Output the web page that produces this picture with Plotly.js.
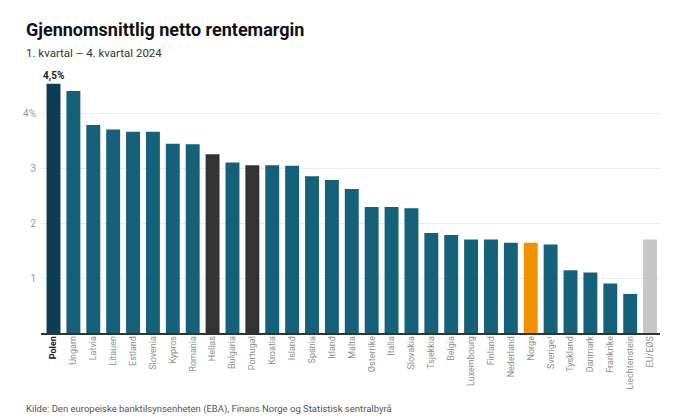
<!DOCTYPE html>
<html>
<head>
<meta charset="utf-8">
<script src="https://cdn.plot.ly/plotly-3.0.1.min.js"></script>
<style>
html,body{margin:0;padding:0;background:#fff;}
#chart{width:680px;height:419px;}
</style>
</head>
<body>
<div id="chart"></div>
<script>
const countries = ["Polen","Ungarn","Latvia","Litauen","Estland","Slovenia","Kypros","Romania","Hellas","Bulgaria","Portugal","Kroatia","Island","Spania","Irland","Malta","Østerrike","Italia","Slovakia","Tsjekkia","Belgia","Luxembourg","Finland","Nederland","Norge","Sverige¹","Tyskland","Danmark","Frankrike","Liechtenstein","EU/EØS"];
const margins = [4.53,4.40,3.78,3.70,3.66,3.66,3.44,3.43,3.25,3.10,3.05,3.05,3.04,2.85,2.78,2.62,2.29,2.29,2.27,1.82,1.78,1.70,1.70,1.64,1.64,1.61,1.14,1.10,0.90,0.71,1.70];
const highlight = {"Polen":"#0b3d55","Hellas":"#333333","Portugal":"#333333","Norge":"#f39200","EU/EØS":"#c6c6c6"};
const baseColor = "#16617a";
const yTickVals = [1,2,3,4];
const yTickText = ["1","2","3","4%"];
const topLabel = "4,5%";

const colors = countries.map(c => highlight[c] || baseColor);
const tickText = countries.map(c => c === "Polen" ? '<b><span style="color:#222">Polen</span></b>' : c);

const trace = {
  type: "bar",
  x: countries,
  y: margins,
  marker: {color: colors, line: {width: 0}},
  hoverinfo: "x+y"
};

const layout = {
  width: 680, height: 419,
  paper_bgcolor: "#fff", plot_bgcolor: "#fff",
  margin: {l: 41, r: 20, t: 80, b: 86},
  bargap: 0.3,
  showlegend: false,
  font: {family: "Roboto, Arial, sans-serif", color: "#888"},
  xaxis: {
    type: "category",
    tickmode: "array", tickvals: countries, ticktext: tickText,
    tickangle: -90,
    tickfont: {size: 9, color: "#8f8f8f"},
    ticklabelstandoff: -2,
    showgrid: false, zeroline: false,
    showline: true, linecolor: "#333", linewidth: 1.5,
    ticks: "", fixedrange: true
  },
  yaxis: {
    range: [0, 4.6],
    tickmode: "array", tickvals: yTickVals, ticktext: yTickText,
    tickfont: {size: 10, color: "#999"},
    showgrid: true, gridcolor: "#ececec", gridwidth: 1,
    zeroline: false, showline: false, ticks: "",
    ticklabelstandoff: 4, fixedrange: true
  },
  annotations: [
    {xref: "paper", yref: "paper", x: -0.0275, y: 1, xanchor: "left", yanchor: "bottom",
     text: "<b>Gjennomsnittlig netto rentemargin</b>", showarrow: false,
     font: {size: 18, color: "#111", family: "Roboto, Arial, sans-serif"}, yshift: 38},
    {xref: "paper", yref: "paper", x: -0.0275, y: 1, xanchor: "left", yanchor: "bottom",
     text: "1. kvartal – 4. kvartal 2024", showarrow: false,
     font: {size: 11.5, color: "#333", family: "Roboto, Arial, sans-serif"}, yshift: 18},
    {xref: "x", yref: "y", x: countries[0], y: margins[0], yanchor: "bottom",
     text: "<b>" + topLabel + "</b>", showarrow: false, yshift: 0,
     font: {size: 10, color: "#222", family: "Roboto, Arial, sans-serif"}},
    {xref: "paper", yref: "paper", x: -0.0275, y: 0, xanchor: "left", yanchor: "top",
     text: "Kilde: Den europeiske banktilsynsenheten (EBA), Finans Norge og Statistisk sentralbyrå",
     showarrow: false, yshift: -68,
     font: {size: 9.5, color: "#555", family: "Roboto, Arial, sans-serif"}}
  ]
};

Plotly.newPlot("chart", [trace], layout, {displayModeBar: false, staticPlot: true});
</script>
</body>
</html>
